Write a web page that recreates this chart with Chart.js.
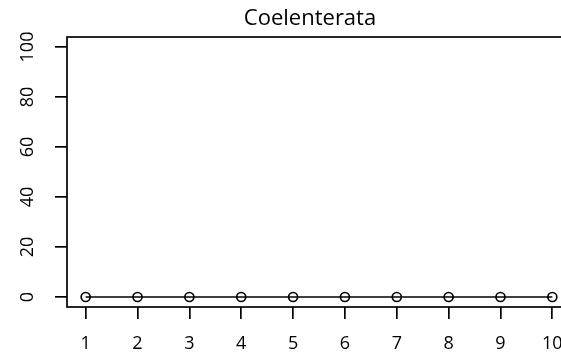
<!DOCTYPE html>
<html>
<head>
<meta charset="utf-8">
<script src="https://cdn.jsdelivr.net/npm/chart.js@4"></script>
<style>
  html, body { margin: 0; padding: 0; background: #fff; overflow: hidden; }
  #wrap { width: 600px; height: 354px; }
</style>
</head>
<body>
<div id="wrap"><canvas id="chart" width="600" height="354"></canvas></div>
<script>
const title = 'Coelenterata';
const xValues = [1, 2, 3, 4, 5, 6, 7, 8, 9, 10];
const yValues = [0, 0, 0, 0, 0, 0, 0, 0, 0, 0];
const xTicks = [1, 2, 3, 4, 5, 6, 7, 8, 9, 10];
const yTicks = [0, 20, 40, 60, 80, 100];

const FONT = '"Open Sans", "DejaVu Sans", sans-serif';

// R-style frame, tick labels and title
const rStyle = {
  id: 'rStyle',
  afterDraw(chart) {
    const { ctx, chartArea: a, scales } = chart;
    ctx.save();
    ctx.strokeStyle = '#000';
    ctx.lineWidth = 1.7;
    ctx.strokeRect(a.left, a.top, a.right - a.left, a.bottom - a.top);

    ctx.fillStyle = '#000';
    ctx.font = '18px ' + FONT;
    ctx.textAlign = 'center';
    ctx.textBaseline = 'middle';
    yTicks.forEach((v) => {
      const y = scales.y.getPixelForValue(v);
      ctx.save();
      ctx.translate(28, y);
      ctx.rotate(-Math.PI / 2);
      ctx.fillText(String(v), 0, 0);
      ctx.restore();
    });
    xTicks.forEach((v) => {
      ctx.fillText(String(v), scales.x.getPixelForValue(v), 344);
    });

    ctx.font = '22px ' + FONT;
    ctx.fillText(title, 310, 19);
    ctx.restore();
  },
};

new Chart(document.getElementById('chart'), {
  type: 'line',
  data: {
    labels: xValues,
    datasets: [{
      data: xValues.map((x, i) => ({ x, y: yValues[i] })),
      borderColor: '#000',
      borderWidth: 1.7,
      backgroundColor: 'rgba(0,0,0,0)',
      pointRadius: 4.5,
      pointBorderWidth: 1.7,
      pointBorderColor: '#000',
      pointBackgroundColor: 'rgba(0,0,0,0)',
      tension: 0,
    }],
  },
  options: {
    responsive: false,
    animation: false,
    layout: { padding: { top: 37, right: 29, left: 0, bottom: 0 } },
    plugins: { legend: { display: false }, tooltip: { enabled: false } },
    scales: {
      x: {
        type: 'linear',
        min: 0.64,
        max: 10.36,
        afterBuildTicks: (s) => { s.ticks = xTicks.map((v) => ({ value: v })); },
        afterFit: (s) => { s.height = 47; },
        grid: { drawOnChartArea: false, drawTicks: true, tickLength: 12, color: '#000', lineWidth: 1.7 },
        border: { display: false },
        ticks: { display: false },
      },
      y: {
        min: -4,
        max: 104,
        afterBuildTicks: (s) => { s.ticks = yTicks.map((v) => ({ value: v })); },
        afterFit: (s) => { s.width = 67; },
        grid: { drawOnChartArea: false, drawTicks: true, tickLength: 12, color: '#000', lineWidth: 1.7 },
        border: { display: false },
        ticks: { display: false },
      },
    },
  },
  plugins: [rStyle],
});
</script>
</body>
</html>
